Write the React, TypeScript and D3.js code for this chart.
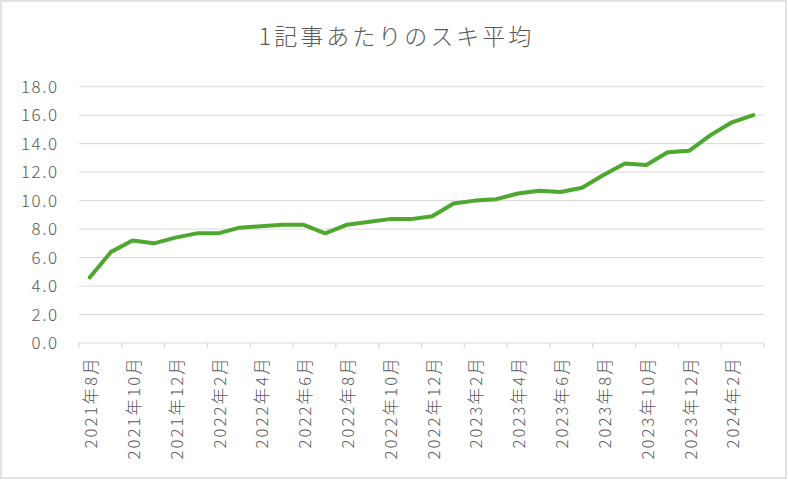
import React from "react";
import * as d3 from "d3";

const title = "1記事あたりのスキ平均";
const months = [
  "2021年8月", "2021年9月", "2021年10月", "2021年11月", "2021年12月",
  "2022年1月", "2022年2月", "2022年3月", "2022年4月", "2022年5月", "2022年6月",
  "2022年7月", "2022年8月", "2022年9月", "2022年10月", "2022年11月", "2022年12月",
  "2023年1月", "2023年2月", "2023年3月", "2023年4月", "2023年5月", "2023年6月",
  "2023年7月", "2023年8月", "2023年9月", "2023年10月", "2023年11月", "2023年12月",
  "2024年1月", "2024年2月", "2024年3月",
];
const values = [
  4.6, 6.4, 7.2, 7.0, 7.4, 7.7, 7.7, 8.1, 8.2, 8.3, 8.3,
  7.7, 8.3, 8.5, 8.7, 8.7, 8.9, 9.8, 10.0, 10.1, 10.5, 10.7,
  10.6, 10.9, 11.8, 12.6, 12.5, 13.4, 13.5, 14.6, 15.5, 16.0,
];
const yTicks = [0, 2, 4, 6, 8, 10, 12, 14, 16, 18];

const W = 788;
const H = 480;
const left = 79;
const right = 764;
const top = 86.7;
const bottom = 343;
const font = "'Noto Sans CJK JP', 'Noto Sans', sans-serif";
const textColor = "#595959";
const gridColor = "#d9d9d9";

export default function App() {
  const x = d3.scaleBand<string>().domain(months).range([left, right]).padding(0);
  const y = d3.scaleLinear().domain([0, 18]).range([bottom, top]);
  const cx = (m: string) => (x(m) as number) + x.bandwidth() / 2;
  const line = d3
    .line<number>()
    .x((_, i) => cx(months[i]))
    .y((d) => y(d));

  const tickIdx = d3.range(0, months.length + 1, 2);
  const labelIdx = d3.range(0, months.length, 2);

  return (
    <>
      <style>{`body{margin:0}`}</style>
      <svg width={W} height={H} style={{ display: "block", background: "#fff" }}>
        <rect x={1} y={1} width={W - 3} height={H - 3} fill="#fff" stroke={gridColor} strokeWidth={1.5} />
        <text
          x={396.5}
          y={45}
          textAnchor="middle"
          fontFamily={font}
          fontSize={23}
          fontWeight={300}
          letterSpacing={3}
          fill={textColor}
        >
          {title}
        </text>
        {yTicks.map((t) => (
          <g key={t}>
            {t > 0 && (
              <line x1={left} x2={right} y1={y(t)} y2={y(t)} stroke={gridColor} strokeWidth={1} />
            )}
            <text
              x={58.5}
              y={y(t)}
              dy="0.36em"
              textAnchor="end"
              fontFamily={font}
              fontSize={17}
              fontWeight={300}
              fill={textColor}
              letterSpacing={1.5}
            >
              {t.toFixed(1)}
            </text>
          </g>
        ))}
        <line x1={left} x2={right} y1={bottom} y2={bottom} stroke={gridColor} strokeWidth={1.2} />
        {tickIdx.map((i) => {
          const xp = left + i * x.bandwidth();
          return <line key={i} x1={xp} x2={xp} y1={bottom} y2={bottom + 5} stroke={gridColor} strokeWidth={1.2} />;
        })}
        {labelIdx.map((i) => {
          const xp = cx(months[i]) + 1.5;
          return (
            <text
              key={i}
              transform={`translate(${xp},${356}) rotate(-90)`}
              textAnchor="end"
              dy="0.36em"
              fontFamily={font}
              fontSize={16.5}
              fontWeight={300}
              fill={textColor}
              letterSpacing={2.2}
            >
              {months[i]}
            </text>
          );
        })}
        <path
          d={line(values) || ""}
          fill="none"
          stroke="#4ea72e"
          strokeWidth={4}
          strokeLinejoin="round"
          strokeLinecap="round"
        />
      </svg>
    </>
  );
}
